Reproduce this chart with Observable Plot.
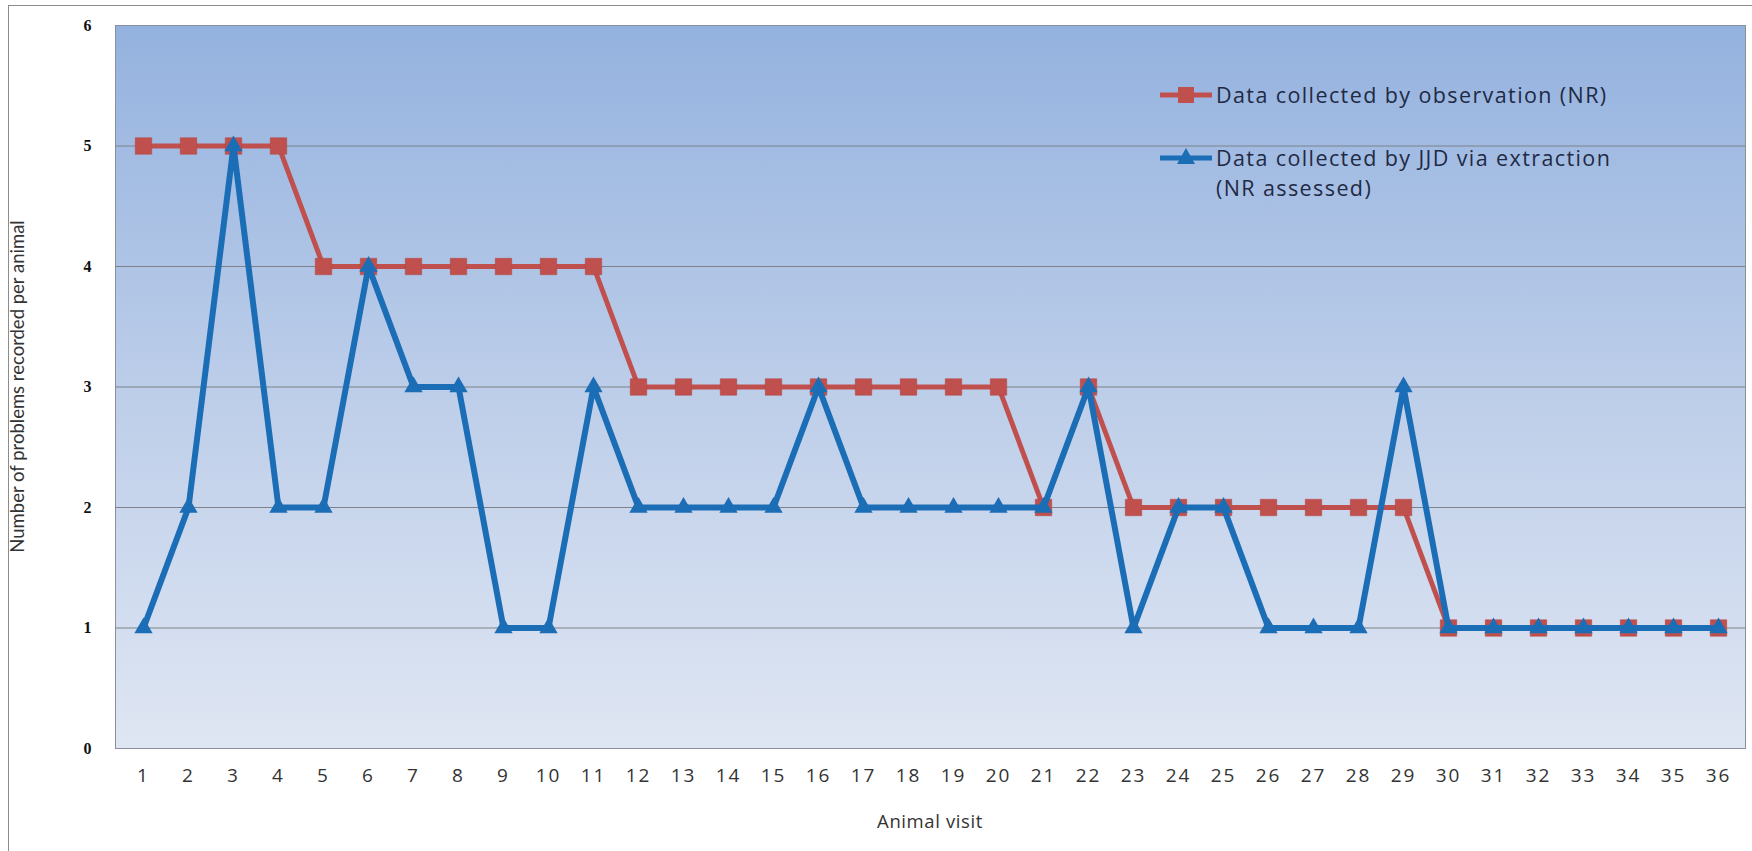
<!DOCTYPE html>
<html>
<head>
<meta charset="utf-8">
<script src="https://cdn.jsdelivr.net/npm/d3@7"></script>
<script src="https://cdn.jsdelivr.net/npm/@observablehq/plot@0.6"></script>
<style>
  html, body { margin: 0; padding: 0; background: #fff; }
  #wrap { position: relative; width: 1752px; height: 851px; overflow: hidden; }
  #border { position: absolute; left: 8px; top: 5px; width: 1760px; height: 860px; border: 1px solid #8c8c8c; box-sizing: border-box; pointer-events: none; }
  #legend { position: absolute; left: 1160px; top: 80px; font-family: "Open Sans", Lato, sans-serif; font-size: 21.5px; letter-spacing: 1.4px; color: #1f2a44; }
  .item { position: relative; padding-left: 56px; line-height: 30px; }
  .item svg { position: absolute; left: 0; top: 1px; }
</style>
</head>
<body>
<div id="wrap">
  <div id="chart"></div>
  <div id="border"></div>
  <div id="legend"></div>
</div>
<script>
const visits = d3.range(1, 37);
const observation = [5,5,5,5,4,4,4,4,4,4,4,3,3,3,3,3,3,3,3,3,2,3,2,2,2,2,2,2,2,1,1,1,1,1,1,1];
const extraction  = [1,2,5,2,2,4,3,3,1,1,3,2,2,2,2,3,2,2,2,2,2,3,1,2,2,1,1,1,3,1,1,1,1,1,1,1];
const yTicks = [0,1,2,3,4,5,6];
const gridTicks = [1,2,3,4,5];
const seriesNames = ["Data collected by observation (NR)", "Data collected by JJD  via extraction", "(NR assessed)"];
const redColor = "#c0504d";
const blueColor = "#1b6db6";

const obsData = visits.map((v, i) => ({visit: v, value: observation[i]}));
const extData = visits.map((v, i) => ({visit: v, value: extraction[i]}));

const chart = Plot.plot({
  width: 1752,
  height: 851,
  marginLeft: 115,
  marginRight: 7,
  marginTop: 25,
  marginBottom: 103,
  style: {fontFamily: "Open Sans, Lato, sans-serif", background: "transparent"},
  x: {type: "point", domain: visits, padding: 0.5, label: null},
  y: {domain: [0, 6], label: null},
  marks: [
    Plot.frame({fill: "url(#bggrad)", stroke: "#8a909a", strokeWidth: 1}),
    Plot.gridY(gridTicks, {stroke: "#7d8288", strokeOpacity: 1, strokeWidth: 1}),
    Plot.axisX({ticks: visits, tickSize: 0, tickPadding: 20, fontSize: 19, fill: "#333", label: null}),
    Plot.axisY({ticks: yTicks, tickFormat: "d", tickSize: 0, tickPadding: 24, fontSize: 16, fontWeight: "bold", fontFamily: "Liberation Serif, serif", fill: "#111", label: null}),
    Plot.line(obsData, {x: "visit", y: "value", stroke: redColor, strokeWidth: 5}),
    Plot.dot(obsData, {x: "visit", y: "value", symbol: "square", r: 9.3, fill: redColor, stroke: "#b04542", strokeWidth: 0.5}),
    Plot.line(extData, {x: "visit", y: "value", stroke: blueColor, strokeWidth: 6}),
    Plot.dot(extData, {x: "visit", y: "value", symbol: "triangle", r: 6.8, fill: blueColor})
  ]
});

const svg = d3.select(chart);
svg.selectAll("g[aria-label='x-axis tick label'] text").attr("letter-spacing", "2px");
const defs = svg.insert("defs", ":first-child");
const grad = defs.append("linearGradient").attr("id", "bggrad").attr("x1", 0).attr("y1", 0).attr("x2", 0).attr("y2", 1);
grad.append("stop").attr("offset", "0%").attr("stop-color", "#94b2df");
grad.append("stop").attr("offset", "55%").attr("stop-color", "#c0d0ea");
grad.append("stop").attr("offset", "100%").attr("stop-color", "#dfe6f3");

svg.append("text")
  .attr("x", (115 + 1745) / 2).attr("y", 828)
  .attr("text-anchor", "middle")
  .attr("font-family", "Open Sans, Lato, sans-serif")
  .attr("font-size", 18.5).attr("letter-spacing", "0.6px").attr("fill", "#333")
  .text("Animal visit");
svg.append("text")
  .attr("transform", `translate(24, ${(25 + 748) / 2}) rotate(-90)`)
  .attr("text-anchor", "middle")
  .attr("font-family", "Lato, Open Sans, sans-serif")
  .attr("font-size", 18.5).attr("fill", "#333")
  .text("Number of problems recorded per animal");

document.getElementById("chart").appendChild(chart);

const legend = d3.select("#legend");
const it1 = legend.append("div").attr("class", "item");
const s1 = it1.append("svg").attr("width", 54).attr("height", 28);
s1.append("line").attr("x1", 0).attr("x2", 52).attr("y1", 14).attr("y2", 14).attr("stroke", redColor).attr("stroke-width", 5);
s1.append("rect").attr("x", 18).attr("y", 6).attr("width", 16).attr("height", 16).attr("fill", redColor);
it1.append("span").text(seriesNames[0]);

const it2 = legend.append("div").attr("class", "item").style("margin-top", "33px");
const s2 = it2.append("svg").attr("width", 54).attr("height", 28);
s2.append("line").attr("x1", 0).attr("x2", 52).attr("y1", 14).attr("y2", 14).attr("stroke", blueColor).attr("stroke-width", 5);
s2.append("path").attr("d", "M26,4 L35,20 L17,20 Z").attr("fill", blueColor);
it2.append("div").text(seriesNames[1]);
it2.append("div").text(seriesNames[2]);
</script>
</body>
</html>
